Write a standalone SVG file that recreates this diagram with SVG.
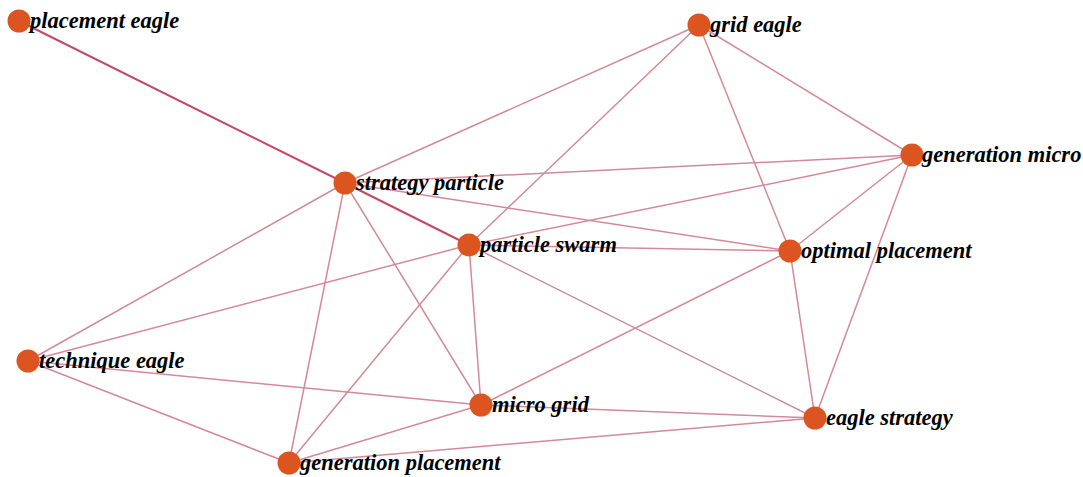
<svg xmlns="http://www.w3.org/2000/svg" width="1083" height="477" viewBox="0 0 1083 477">
<style>
.e{stroke:#d3899a;stroke-width:1.5;fill:none}
.d{stroke:#c24a62;stroke-width:2;fill:none}
.n circle{fill:#dc5520}
.n text{font-family:"Liberation Serif",serif;font-weight:bold;font-style:italic;font-size:22.5px;fill:#000}
</style>
<rect width="1083" height="477" fill="#fff"/>
<g id="connectors">
<line class="d" x1="19" y1="21" x2="345" y2="183"/>
<line class="d" x1="345" y1="183" x2="469" y2="245"/>
<line class="e" x1="699" y1="25" x2="345" y2="183"/>
<line class="e" x1="699" y1="25" x2="469" y2="245"/>
<line class="e" x1="699" y1="25" x2="912" y2="155"/>
<line class="e" x1="699" y1="25" x2="790" y2="251"/>
<line class="e" x1="345" y1="183" x2="912" y2="155"/>
<line class="e" x1="345" y1="183" x2="790" y2="251"/>
<line class="e" x1="345" y1="183" x2="28" y2="361"/>
<line class="e" x1="345" y1="183" x2="481" y2="405"/>
<line class="e" x1="345" y1="183" x2="289" y2="463"/>
<line class="e" x1="469" y1="245" x2="912" y2="155"/>
<line class="e" x1="469" y1="245" x2="790" y2="251"/>
<line class="e" x1="469" y1="245" x2="28" y2="361"/>
<line class="e" x1="469" y1="245" x2="481" y2="405"/>
<line class="e" x1="469" y1="245" x2="815" y2="418"/>
<line class="e" x1="469" y1="245" x2="289" y2="463"/>
<line class="e" x1="912" y1="155" x2="790" y2="251"/>
<line class="e" x1="912" y1="155" x2="815" y2="418"/>
<line class="e" x1="790" y1="251" x2="481" y2="405"/>
<line class="e" x1="790" y1="251" x2="815" y2="418"/>
<line class="e" x1="28" y1="361" x2="481" y2="405"/>
<line class="e" x1="28" y1="361" x2="289" y2="463"/>
<line class="e" x1="481" y1="405" x2="815" y2="418"/>
<line class="e" x1="481" y1="405" x2="289" y2="463"/>
<line class="e" x1="289" y1="463" x2="815" y2="418"/>
</g>
<g id="placement-eagle" class="n"><circle cx="19" cy="21" r="11.5"/><text x="30" y="28">placement eagle</text></g>
<g id="grid-eagle" class="n"><circle cx="699" cy="25" r="11.5"/><text x="710" y="32">grid eagle</text></g>
<g id="generation-micro" class="n"><circle cx="912" cy="155" r="11.5"/><text x="922" y="162">generation micro</text></g>
<g id="strategy-particle" class="n"><circle cx="345" cy="183" r="11.5"/><text x="356" y="190">strategy particle</text></g>
<g id="particle-swarm" class="n"><circle cx="469" cy="245" r="11.5"/><text x="480" y="252">particle swarm</text></g>
<g id="optimal-placement" class="n"><circle cx="790" cy="251" r="11.5"/><text x="801" y="258">optimal placement</text></g>
<g id="technique-eagle" class="n"><circle cx="28" cy="361" r="11.5"/><text x="39" y="368">technique eagle</text></g>
<g id="micro-grid" class="n"><circle cx="481" cy="405" r="11.5"/><text x="492" y="412">micro grid</text></g>
<g id="eagle-strategy" class="n"><circle cx="815" cy="418" r="11.5"/><text x="826" y="425">eagle strategy</text></g>
<g id="generation-placement" class="n"><circle cx="289" cy="463" r="11.5"/><text x="300" y="470">generation placement</text></g>
</svg>
